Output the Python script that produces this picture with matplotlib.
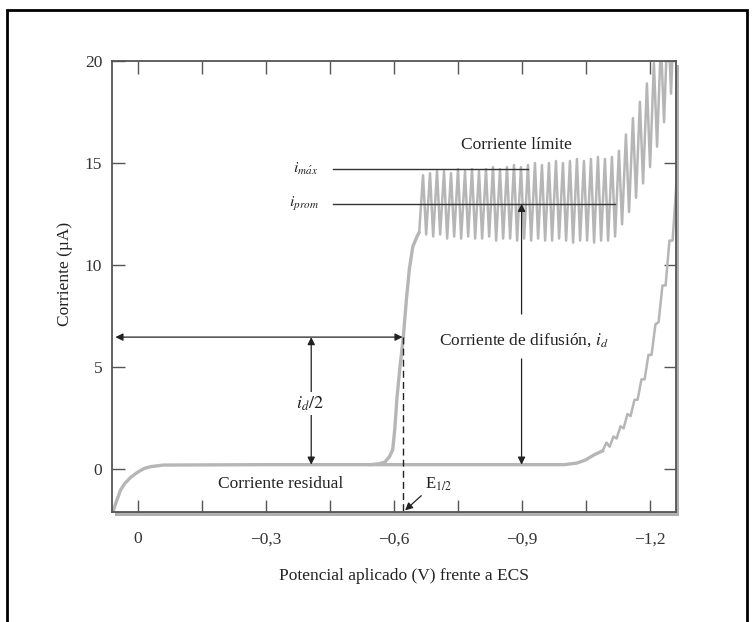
import numpy as np
import matplotlib
matplotlib.use("Agg")
import matplotlib.pyplot as plt
from matplotlib.patches import Rectangle

plt.rcParams["font.family"] = ["Liberation Serif", "DejaVu Serif"]
plt.rcParams["mathtext.fontset"] = "stix"

# smooth part of the polarogram: potential (V vs ECS) and current (uA)
E_foot = [0.058, 0.05, 0.04, 0.03, 0.016, 0.0, -0.015, -0.03, -0.06, -0.30, -0.546,
          -0.565, -0.58, -0.59, -0.598, -0.603, -0.608, -0.615, -0.623, -0.63,
          -0.637, -0.645, -0.655, -0.66]
i_foot = [-2.1, -1.6, -1.03, -0.7, -0.4, -0.15, 0.03, 0.12, 0.2, 0.22, 0.22,
          0.26, 0.35, 0.6, 0.95, 2.0, 3.5, 5.0, 6.5, 8.3,
          9.8, 10.9, 11.4, 11.6]

# mercury drops on the limiting current plateau and beyond
wave_start = -0.66
wave_low = [11.6, 11.5, 11.4, 11.5, 11.3, 11.4, 11.3, 11.4, 11.3, 11.3, 11.4, 11.2,
            11.3, 11.3, 11.2, 11.3, 11.2, 11.3, 11.2, 11.2, 11.3, 11.2, 11.1, 11.2,
            11.2, 11.1, 11.2, 11.2,
            11.4, 12.0, 12.6, 13.3, 14.0, 14.8, 15.8, 17.0, 18.4]
wave_high = [14.4, 14.5, 14.6, 14.6, 14.5, 14.7, 14.6, 14.7, 14.6, 14.7, 14.8, 14.7,
             14.8, 14.9, 14.8, 14.9, 15.0, 14.9, 15.0, 15.1, 15.0, 15.1, 15.2, 15.1,
             15.2, 15.3, 15.2, 15.3,
             15.6, 16.4, 17.2, 18.0, 18.9, 19.9, 21.0, 22.3, 23.6]

# residual current of the supporting electrolyte
E_resid = [-0.546, -1.0, -1.03, -1.05, -1.07, -1.09]
i_resid = [0.22, 0.22, 0.3, 0.45, 0.7, 0.9]
resid_start = -1.09
resid_low = [0.9, 1.1, 1.5, 2.0, 2.6, 3.4, 4.4, 5.6, 7.2, 9.0, 11.2]
resid_high = [1.3, 1.6, 2.1, 2.7, 3.4, 4.4, 5.6, 7.1, 9.0, 11.2, 14.0]

drop_step = 0.0164  # potential swept during one drop

i_max = 14.7
i_prom = 13.0
i_res = 0.22
E_half = -0.623
half_level = 6.47

x_ticks = [0, -0.15, -0.3, -0.45, -0.6, -0.75, -0.9, -1.05, -1.2]
x_labels = ["0", "", "\u22120,3", "", "\u22120,6", "", "\u22120,9", "", "\u22121,2"]
y_ticks = [0, 5, 10, 15, 20]


def drops(e0, lows, highs, step):
    e, cur = [], []
    for k, (lo, hi) in enumerate(zip(lows, highs)):
        ek = e0 - k * step
        e += [ek, ek - 0.55 * step]
        cur += [lo, hi]
    return e, cur


fig = plt.figure(figsize=(7.54, 6.22), dpi=100)
ax = fig.add_axes([112 / 754, 110 / 622, 564 / 754, 451 / 622])

# drop shadow of the frame and the outer border
fig.patches.append(Rectangle((115 / 754, 106 / 622), 564 / 754, 451 / 622,
                             transform=fig.transFigure, facecolor="#b0b0b0",
                             edgecolor="none", zorder=-1))
fig.patches.append(Rectangle((7 / 754, -0.02), 740 / 754, 612 / 622 + 0.02,
                             transform=fig.transFigure, fill=False,
                             edgecolor="black", linewidth=2, zorder=5))

gray = "#b6b6b6"
ax.plot(E_foot, i_foot, color=gray, lw=2.4, solid_capstyle="round", zorder=2)
we, wi = drops(wave_start, wave_low, wave_high, drop_step)
ax.plot(we, wi, color=gray, lw=1.8, zorder=2)
ax.plot(E_resid, i_resid, color=gray, lw=2.4, zorder=2)
re, ri = drops(resid_start, resid_low, resid_high, drop_step)
ax.plot(re, ri, color=gray, lw=1.8, zorder=2)

# i_max and i_prom markers
ax.plot([-0.457, -0.916], [i_max, i_max], color="#333", lw=1.0, zorder=3)
ax.plot([-0.457, -1.12], [i_prom, i_prom], color="#333", lw=1.0, zorder=3)
ax.text(-0.424, i_max, r"$i_{m\acute{a}x}$", ha="right", va="center", fontsize=11.5, color="#222")
ax.text(-0.424, i_prom, r"$i_{prom}$", ha="right", va="center", fontsize=11.5, color="#222")
ax.text(-0.888, 15.9, "Corriente límite", ha="center", va="center", fontsize=12.5, color="#222")

arrow = dict(arrowstyle="-|>", color="#222", lw=0.9, mutation_scale=11, shrinkA=0, shrinkB=0)
dbl = dict(arrowstyle="<|-|>", color="#222", lw=0.9, mutation_scale=11, shrinkA=0, shrinkB=0)

# diffusion current
ax.annotate("", xy=(-0.9, i_prom), xytext=(-0.9, 7.6), arrowprops=arrow, zorder=4)
ax.annotate("", xy=(-0.9, i_res), xytext=(-0.9, 5.4), arrowprops=arrow, zorder=4)
ax.text(-0.905, 6.3, "Corriente de difusión, $i_d$", ha="center", va="center",
        fontsize=12.5, color="#222")

# half-wave construction
ax.annotate("", xy=(E_half + 0.002, half_level), xytext=(0.052, half_level), arrowprops=dbl, zorder=4)
ax.annotate("", xy=(-0.407, i_res), xytext=(-0.407, half_level), arrowprops=dbl, zorder=4)
ax.text(-0.403, 3.2, "$i_d/2$", ha="center", va="center", fontsize=13, color="#222",
        bbox=dict(facecolor="white", edgecolor="none", pad=1.5), zorder=5)
ax.plot([E_half, E_half], [half_level, -2.1], color="#222", lw=1.0, ls=(0, (5, 3)), zorder=3)
ax.annotate("", xy=(E_half - 0.004, -2.02), xytext=(-0.665, -1.3), arrowprops=arrow, zorder=4)
ax.text(-0.705, -0.75, "E$_{1/2}$", ha="center", va="center", fontsize=12, color="#222")

ax.text(-0.335, -0.75, "Corriente residual", ha="center", va="center", fontsize=12.5, color="#222")

ax.set_xlim(0.06, -1.262)
ax.set_ylim(-2.1, 20)
ax.set_xticks(x_ticks)
ax.set_xticklabels(x_labels)
ax.set_yticks(y_ticks)
ax.tick_params(axis="both", direction="in", length=9, width=1.0, color="#555",
               labelcolor="#333", labelsize=12.5, top=True, right=True)
ax.tick_params(axis="x", pad=14)
ax.tick_params(axis="y", pad=7)
for s in ax.spines.values():
    s.set_color("#555")
    s.set_linewidth(1.3)

ax.set_xlabel("Potencial aplicado (V) frente a ECS", fontsize=12.5, color="#222")
ax.set_ylabel("Corriente (\u00b5A)", fontsize=12.5, color="#222")
ax.xaxis.set_label_coords(0.518, -0.125)
ax.yaxis.set_label_coords(-0.07, 0.528)

fig.savefig("out.png", dpi=100)
